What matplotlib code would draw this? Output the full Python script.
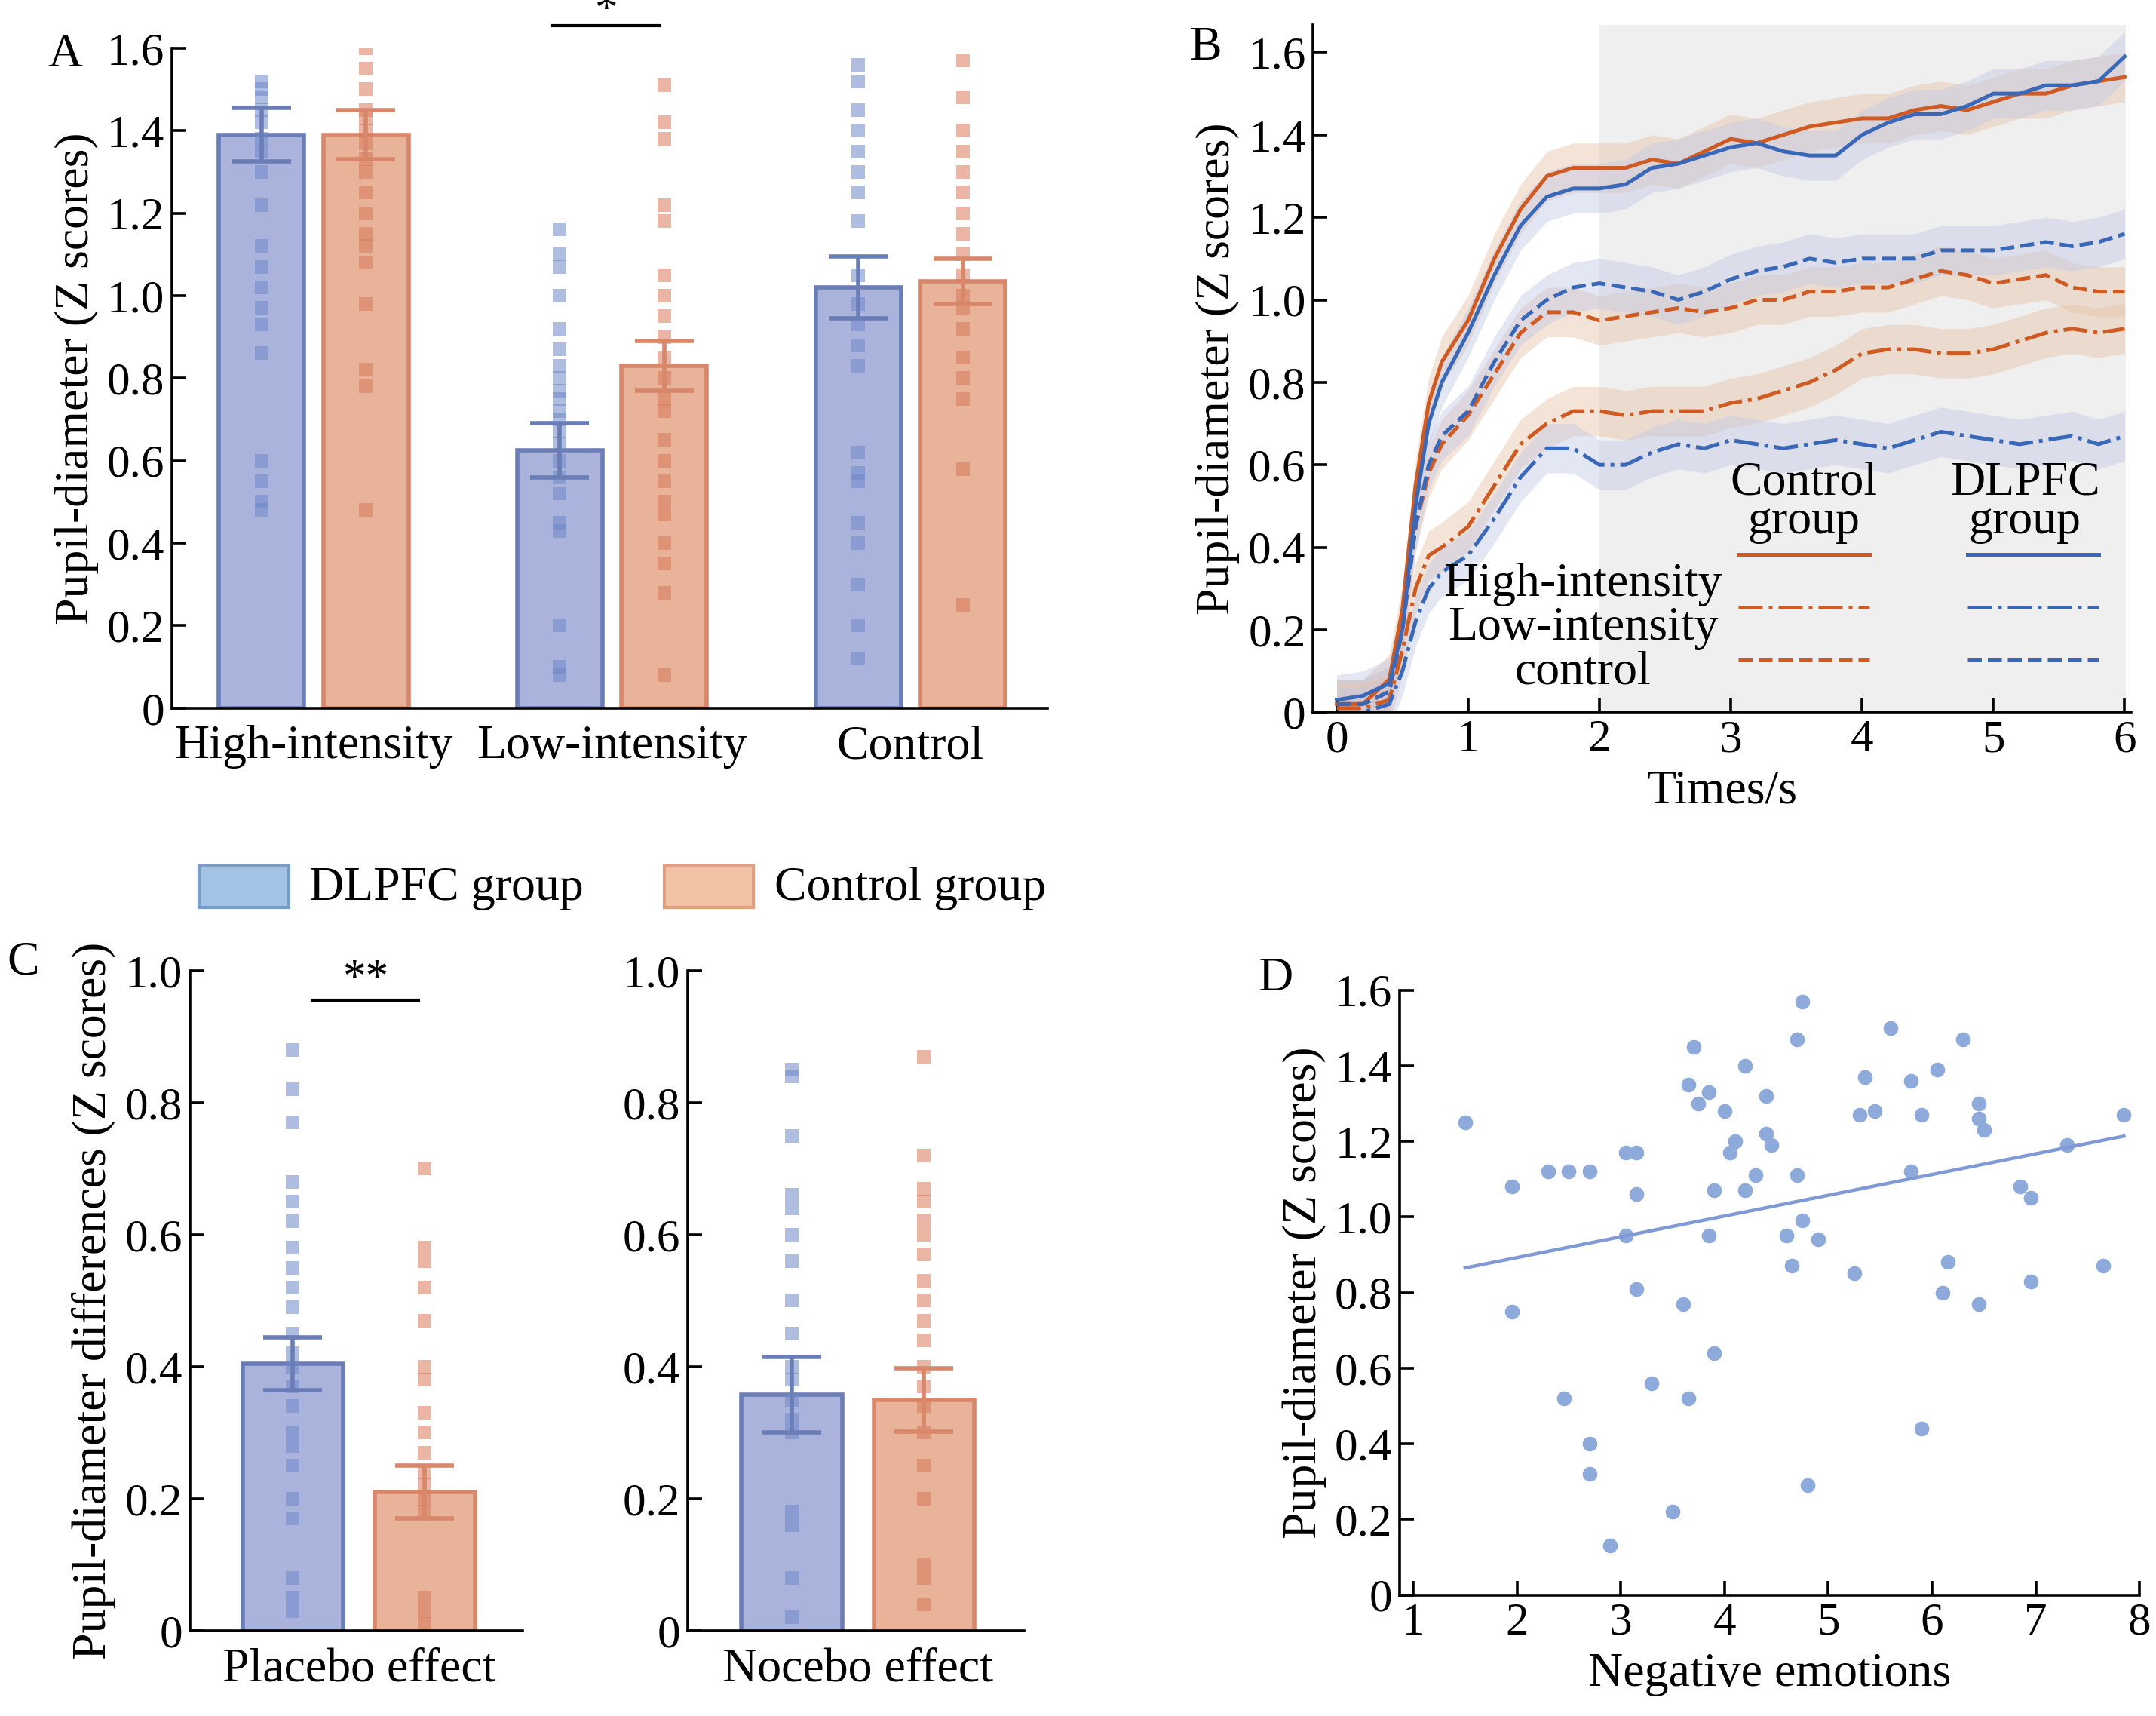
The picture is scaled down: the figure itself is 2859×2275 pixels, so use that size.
import numpy as np
import matplotlib.pyplot as plt
from matplotlib.patches import Rectangle

plt.rcParams['font.family'] = ['Liberation Serif', 'DejaVu Serif']
plt.rcParams['font.size'] = 22

BLUE_FILL = '#aab3dc'
BLUE_EDGE = '#6a7db6'
BLUE_PT = '#6e88c8'
BLUE_LINE = '#3a68b8'
ORANGE_FILL = '#e8b398'
ORANGE_EDGE = '#d8876a'
ORANGE_PT = '#d9795a'
ORANGE_LINE = '#cf5a22'

# ---------------- Panel A data ----------------
a_groups = ['High-intensity', 'Low-intensity', 'Control']
a_dlpfc_mean = [1.39, 0.625, 1.02]
a_dlpfc_err = [0.065, 0.065, 0.075]
a_ctrl_mean = [1.39, 0.83, 1.035]
a_ctrl_err = [0.06, 0.06, 0.055]
a_dlpfc_pts = [
    [1.52, 1.5, 1.48, 1.45, 1.42, 1.38, 1.35, 1.3, 1.22, 1.12, 1.07, 1.02, 0.97, 0.93, 0.86, 0.6, 0.55, 0.5, 0.48],
    [1.16, 1.1, 1.07, 1.0, 0.92, 0.87, 0.83, 0.8, 0.77, 0.75, 0.72, 0.7, 0.67, 0.64, 0.6, 0.56, 0.52, 0.45, 0.43, 0.2, 0.1, 0.08],
    [1.56, 1.52, 1.45, 1.4, 1.35, 1.3, 1.25, 1.18, 1.05, 0.98, 0.93, 0.88, 0.83, 0.62, 0.57, 0.55, 0.45, 0.4, 0.3, 0.2, 0.12],
]
a_ctrl_pts = [
    [1.6, 1.55, 1.5, 1.45, 1.43, 1.4, 1.37, 1.33, 1.3, 1.25, 1.2, 1.15, 1.12, 1.08, 0.98, 0.82, 0.78, 0.48],
    [1.51, 1.42, 1.38, 1.22, 1.18, 1.05, 1.0, 0.95, 0.9, 0.85, 0.8, 0.75, 0.72, 0.65, 0.6, 0.55, 0.5, 0.47, 0.4, 0.35, 0.28, 0.08],
    [1.57, 1.48, 1.4, 1.35, 1.3, 1.25, 1.2, 1.15, 1.1, 1.05, 1.0, 0.97, 0.92, 0.85, 0.8, 0.75, 0.58, 0.25],
]

# ---------------- Panel B data ----------------
t = [0, 0.2, 0.4, 0.5, 0.6, 0.7, 0.8, 1.0, 1.2, 1.4, 1.6, 1.8, 2.0, 2.2, 2.4, 2.6, 2.8, 3.0,
     3.2, 3.4, 3.6, 3.8, 4.0, 4.2, 4.4, 4.6, 4.8, 5.0, 5.2, 5.4, 5.6, 5.8, 6.0]
ctrl_high = [0.02, 0.02, 0.08, 0.25, 0.55, 0.75, 0.85, 0.95, 1.1, 1.22, 1.3, 1.32, 1.32, 1.32, 1.34, 1.33, 1.36,
             1.39, 1.38, 1.4, 1.42, 1.43, 1.44, 1.44, 1.46, 1.47, 1.46, 1.48, 1.5, 1.5, 1.52, 1.53, 1.54]
dlpfc_high = [0.03, 0.04, 0.07, 0.2, 0.5, 0.7, 0.8, 0.92, 1.06, 1.18, 1.25, 1.27, 1.27, 1.28, 1.32, 1.33, 1.35,
              1.37, 1.38, 1.36, 1.35, 1.35, 1.4, 1.43, 1.45, 1.45, 1.47, 1.5, 1.5, 1.52, 1.52, 1.53, 1.59]
ctrl_control = [0.02, 0.02, 0.05, 0.2, 0.45, 0.58, 0.65, 0.72, 0.82, 0.92, 0.97, 0.97, 0.95, 0.96, 0.97, 0.98, 0.97,
                0.98, 1.0, 1.0, 1.02, 1.02, 1.03, 1.03, 1.05, 1.07, 1.06, 1.04, 1.05, 1.06, 1.03, 1.02, 1.02]
dlpfc_control = [0.02, 0.02, 0.05, 0.2, 0.45, 0.6, 0.67, 0.73, 0.85, 0.95, 1.0, 1.03, 1.04, 1.03, 1.02, 1.0, 1.02,
                 1.05, 1.07, 1.08, 1.1, 1.09, 1.1, 1.1, 1.1, 1.12, 1.12, 1.12, 1.13, 1.14, 1.13, 1.14, 1.16]
ctrl_low = [0.01, 0.01, 0.03, 0.15, 0.3, 0.38, 0.4, 0.45, 0.55, 0.65, 0.7, 0.73, 0.73, 0.72, 0.73, 0.73, 0.73,
            0.75, 0.76, 0.78, 0.8, 0.83, 0.87, 0.88, 0.88, 0.87, 0.87, 0.88, 0.9, 0.92, 0.93, 0.92, 0.93]
dlpfc_low = [0.0, 0.0, 0.02, 0.1, 0.22, 0.3, 0.34, 0.38, 0.47, 0.57, 0.64, 0.64, 0.6, 0.6, 0.63, 0.65, 0.64,
             0.66, 0.65, 0.64, 0.65, 0.66, 0.65, 0.64, 0.66, 0.68, 0.67, 0.66, 0.65, 0.66, 0.67, 0.65, 0.67]
band_sem = 0.06

# ---------------- Panel C data ----------------
c_effects = ['Placebo effect', 'Nocebo effect']
c_dlpfc_mean = [0.405, 0.358]
c_dlpfc_err = [0.04, 0.057]
c_ctrl_mean = [0.21, 0.35]
c_ctrl_err = [0.04, 0.048]
c_dlpfc_pts = [
    [0.88, 0.82, 0.77, 0.68, 0.65, 0.62, 0.58, 0.55, 0.52, 0.49, 0.45, 0.42, 0.4, 0.37, 0.34, 0.3, 0.28, 0.25, 0.2, 0.17, 0.08, 0.05, 0.03],
    [0.85, 0.84, 0.75, 0.66, 0.64, 0.6, 0.56, 0.5, 0.45, 0.4, 0.38, 0.35, 0.32, 0.3, 0.18, 0.16, 0.08, 0.02],
]
c_ctrl_pts = [
    [0.7, 0.58, 0.56, 0.52, 0.47, 0.4, 0.38, 0.33, 0.3, 0.27, 0.24, 0.22, 0.2, 0.18, 0.05, 0.03, 0.01],
    [0.87, 0.72, 0.67, 0.65, 0.62, 0.6, 0.57, 0.53, 0.5, 0.47, 0.44, 0.4, 0.37, 0.34, 0.3, 0.25, 0.2, 0.1, 0.08, 0.04],
]

# ---------------- Panel D data ----------------
d_neg = [1.5, 1.95, 1.95, 2.3, 2.5, 2.7, 2.45, 2.7, 2.7, 2.9, 3.05, 3.15, 3.05, 3.15, 3.15, 3.3, 3.5, 3.6,
         3.65, 3.7, 3.65, 3.75, 3.85, 3.85, 3.9, 3.9, 4.0, 4.05, 4.1, 4.2, 4.2, 4.3, 4.4, 4.4, 4.45, 4.6,
         4.65, 4.7, 4.7, 4.75, 4.75, 4.8, 4.9, 5.25, 5.3, 5.35, 5.45, 5.6, 5.8, 5.8, 5.9, 5.9, 6.05, 6.1,
         6.15, 6.3, 6.45, 6.45, 6.5, 6.45, 6.85, 6.95, 6.95, 7.3, 7.65, 7.85]
d_pupil = [1.25, 1.08, 0.75, 1.12, 1.12, 1.12, 0.52, 0.4, 0.32, 0.13, 1.17, 1.17, 0.95, 1.06, 0.81, 0.56, 0.22, 0.77,
           1.35, 1.45, 0.52, 1.3, 1.33, 0.95, 1.07, 0.64, 1.28, 1.17, 1.2, 1.4, 1.07, 1.11, 1.32, 1.22, 1.19, 0.95,
           0.87, 1.47, 1.11, 1.57, 0.99, 0.29, 0.94, 0.85, 1.27, 1.37, 1.28, 1.5, 1.12, 1.36, 1.27, 0.44, 1.39, 0.8,
           0.88, 1.47, 1.3, 1.26, 1.23, 0.77, 1.08, 1.05, 0.83, 1.19, 0.87, 1.27]

W, H = 1568, 1248
FS = 23
fig = plt.figure(figsize=(2859 / 200, 2275 / 200), dpi=200)


def box(x0, x1, ytop, ybot):
    return [x0 / W, 1 - ybot / H, (x1 - x0) / W, (ybot - ytop) / H]


def style(ax):
    for s in ['top', 'right']:
        ax.spines[s].set_visible(False)
    for s in ['left', 'bottom']:
        ax.spines[s].set_linewidth(1.3)
    ax.tick_params(direction='in', length=7, width=1.3, labelsize=22)


def fmt(v):
    return '0' if v == 0 else f'{v:.1f}'


def bar_panel(ax, x, means, errs, pts, fill, edge, ptc, width):
    ax.bar(x, means, width=width, color=fill, edgecolor=edge, linewidth=2, zorder=1)
    for xi, p in zip(x, pts):
        ax.scatter([xi] * len(p), p, marker='s', s=40, color=ptc, alpha=0.55, linewidths=0, zorder=2)
    ax.errorbar(x, means, yerr=errs, fmt='none', ecolor=edge, elinewidth=2, capsize=14, capthick=2, zorder=3)


# ---------------- A ----------------
axA = fig.add_axes(box(125, 762, 35, 515))
style(axA)
xg = np.arange(len(a_groups))
bar_panel(axA, xg - 0.175, a_dlpfc_mean, a_dlpfc_err, a_dlpfc_pts, BLUE_FILL, BLUE_EDGE, BLUE_PT, 0.286)
bar_panel(axA, xg + 0.175, a_ctrl_mean, a_ctrl_err, a_ctrl_pts, ORANGE_FILL, ORANGE_EDGE, ORANGE_PT, 0.286)
axA.set_xlim(-0.475, 2.46)
axA.set_ylim(0, 1.6)
yt = np.arange(0, 1.61, 0.2)
axA.set_yticks(yt)
axA.set_yticklabels([fmt(round(v, 1)) for v in yt])
axA.set_xticks(xg)
axA.set_xticklabels(a_groups, fontsize=FS)
axA.tick_params(axis='x', length=0, pad=8)
axA.set_ylabel('Pupil-diameter (Z scores)', fontsize=FS)
axA.plot([0.8, 1.16], [1.655, 1.655], color='black', lw=1.5, clip_on=False)
axA.text(0.98, 1.69, '*', ha='center', va='center', fontsize=22)
fig.text(35 / W, 1 - 40 / H, 'A', fontsize=FS, va='center')

# ---------------- B ----------------
axB = fig.add_axes(box(955, 1550, 18, 518))
style(axB)
axB.axvspan(2, 6, color='#efefef', zorder=0)
series = [
    (ctrl_high, ORANGE_LINE, '-'), (dlpfc_high, BLUE_LINE, '-'),
    (ctrl_control, ORANGE_LINE, '--'), (dlpfc_control, BLUE_LINE, '--'),
    (ctrl_low, ORANGE_LINE, '-.'), (dlpfc_low, BLUE_LINE, '-.'),
]
for y, c, ls in series:
    y = np.array(y)
    band = '#e8c4a8' if c == ORANGE_LINE else '#c3c9e6'
    axB.fill_between(t, y - band_sem, y + band_sem, color=band, alpha=0.45, linewidth=0, zorder=1)
    axB.plot(t, y, color=c, ls=ls, lw=1.8, zorder=2)
axB.set_xlim(-0.18, 6.05)
axB.set_ylim(0, 1.667)
axB.set_yticks(yt)
axB.set_yticklabels([fmt(round(v, 1)) for v in yt])
axB.set_xticks(range(7))
axB.set_xlabel('Times/s', fontsize=FS)
axB.set_ylabel('Pupil-diameter (Z scores)', fontsize=FS)
tr = axB.transAxes
axB.text(0.6, 0.245, 'Control\ngroup', transform=tr, ha='center', va='bottom', fontsize=FS, linespacing=0.85)
axB.text(0.87, 0.245, 'DLPFC\ngroup', transform=tr, ha='center', va='bottom', fontsize=FS, linespacing=0.85)
axB.plot([0.52, 0.68], [0.23, 0.23], transform=tr, color=ORANGE_LINE, lw=1.8)
axB.plot([0.8, 0.96], [0.23, 0.23], transform=tr, color=BLUE_LINE, lw=1.8)
axB.text(0.5, 0.122, 'High-intensity\nLow-intensity\ncontrol', transform=tr, ha='right', va='center',
         fontsize=FS, linespacing=1.0, multialignment='center')
axB.plot([0.52, 0.68], [0.153, 0.153], transform=tr, color=ORANGE_LINE, lw=1.8, ls='-.')
axB.plot([0.8, 0.96], [0.153, 0.153], transform=tr, color=BLUE_LINE, lw=1.8, ls='-.')
axB.plot([0.52, 0.68], [0.076, 0.076], transform=tr, color=ORANGE_LINE, lw=1.8, ls='--')
axB.plot([0.8, 0.96], [0.076, 0.076], transform=tr, color=BLUE_LINE, lw=1.8, ls='--')
fig.text(865 / W, 1 - 35 / H, 'B', fontsize=FS, va='center')

# ---------------- C ----------------
c_boxes = [box(138, 380, 706, 1186), box(500, 745, 706, 1186)]
c_xlims = [(-0.78, 1.74), (-0.79, 1.76)]
yc = np.arange(0, 1.01, 0.2)
for i, (bx, xl) in enumerate(zip(c_boxes, c_xlims)):
    ax = fig.add_axes(bx)
    style(ax)
    bar_panel(ax, [0], [c_dlpfc_mean[i]], [c_dlpfc_err[i]], [c_dlpfc_pts[i]], BLUE_FILL, BLUE_EDGE, BLUE_PT, 0.76)
    bar_panel(ax, [1], [c_ctrl_mean[i]], [c_ctrl_err[i]], [c_ctrl_pts[i]], ORANGE_FILL, ORANGE_EDGE, ORANGE_PT, 0.76)
    ax.set_xlim(*xl)
    ax.set_ylim(0, 1.0)
    ax.set_yticks(yc)
    ax.set_yticklabels([fmt(round(v, 1)) for v in yc])
    ax.set_xticks([0.5])
    ax.set_xticklabels([c_effects[i]], fontsize=FS)
    ax.tick_params(axis='x', length=0, pad=8)
    if i == 0:
        ax.set_ylabel('Pupil-diameter differences (Z scores)', fontsize=FS)
        ax.plot([0.15, 0.95], [0.955, 0.955], color='black', lw=1.5)
        ax.text(0.55, 0.955, '**', ha='center', va='bottom', fontsize=22)
fig.text(5 / W, 1 - 700 / H, 'C', fontsize=FS, va='center')

# legend for C
for x0, col, ec, lab in [(145, '#a3c3e6', '#7a9cc8', 'DLPFC group'), (483, '#f2c2a4', '#e0a080', 'Control group')]:
    fig.patches.append(Rectangle((x0 / W, 1 - 660 / H), 65 / W, 30 / H, transform=fig.transFigure,
                                 facecolor=col, edgecolor=ec, lw=1.5))
    fig.text((x0 + 80) / W, 1 - 646 / H, lab, fontsize=FS, va='center')

# ---------------- D ----------------
axD = fig.add_axes(box(1018, 1556, 720, 1160))
style(axD)
axD.scatter(d_neg, d_pupil, s=50, color='#8eaadb', linewidths=0, zorder=2)
k, b = np.polyfit(d_neg, d_pupil, 1)
xs = np.array([min(d_neg), max(d_neg)])
axD.plot(xs, k * xs + b, color='#7f9ad6', lw=1.6)
axD.set_xlim(0.87, 8.0)
axD.set_ylim(0, 1.6)
axD.set_yticks(yt)
axD.set_yticklabels([fmt(round(v, 1)) for v in yt])
axD.set_xticks(range(1, 9))
axD.set_xlabel('Negative emotions', fontsize=FS)
axD.set_ylabel('Pupil-diameter (Z scores)', fontsize=FS)
fig.text(915 / W, 1 - 712 / H, 'D', fontsize=FS, va='center')

fig.savefig('out.png', dpi=200)
